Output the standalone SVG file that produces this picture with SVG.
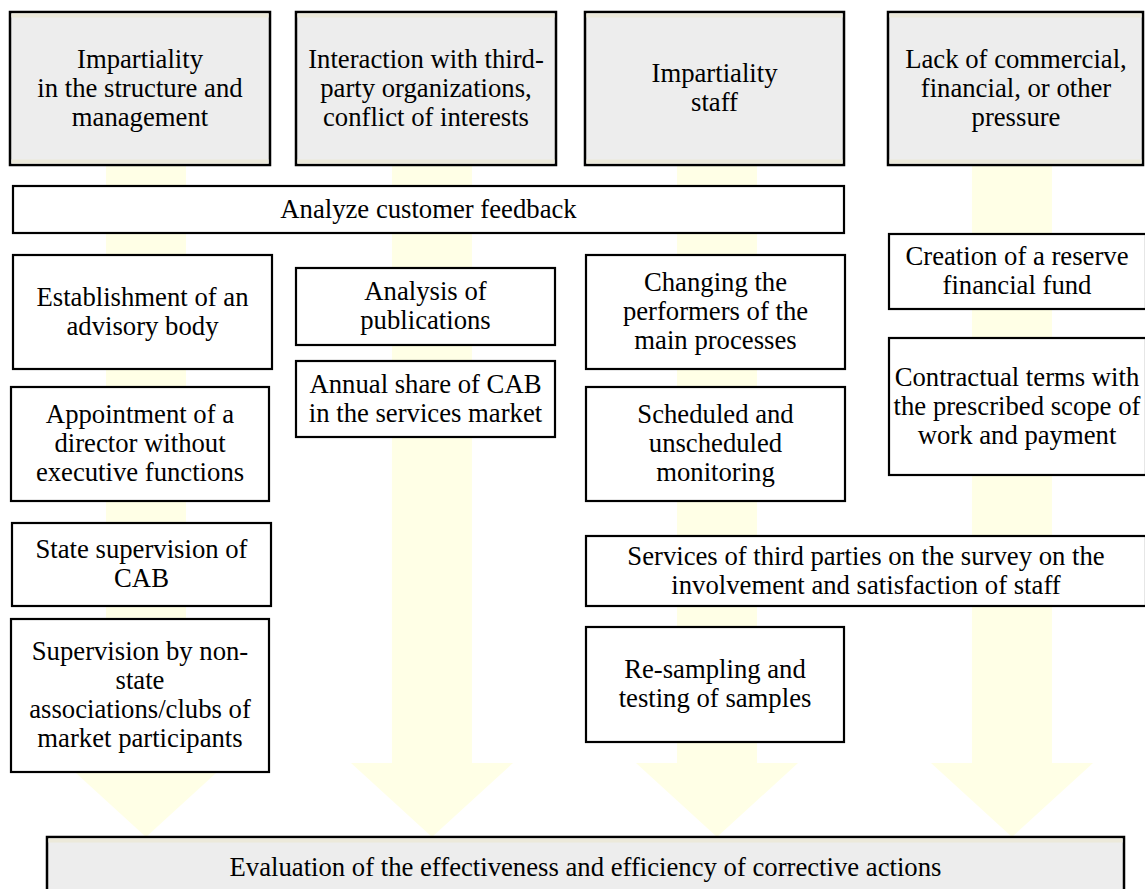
<svg xmlns="http://www.w3.org/2000/svg" width="1145" height="889" viewBox="0 0 1145 889">
<style>
.box{fill:#ffffff;stroke:#000000;stroke-width:2.2}
.head{fill:#ededed;stroke:#000000;stroke-width:2.5}
.strip{fill:#ece9da}
.arrow{fill:#ffffe6;stroke:none}
text{font-family:"Liberation Serif","Times New Roman",serif;font-size:26.7px;fill:#000000;text-anchor:middle}
</style>
<rect width="1145" height="889" fill="#ffffff"/>
<g id="connectors">
<path class="arrow" d="M106,100 H186 V763 H227 L146,837 L65,763 H106 Z"/>
<path class="arrow" d="M392,100 H472 V763 H513 L432,837 L351,763 H392 Z"/>
<path class="arrow" d="M677,100 H757 V763 H798 L717,837 L636,763 H677 Z"/>
<path class="arrow" d="M972,100 H1052 V763 H1093 L1012,837 L931,763 H972 Z"/>
</g>
<g id="top1">
<rect class="head" x="10" y="12" width="260" height="153"/>
<rect class="strip" x="11.5" y="13.5" width="257" height="4"/>
<rect class="strip" x="11.5" y="159.5" width="257" height="4"/>
<text x="140" y="67.5">Impartiality</text>
<text x="140" y="96.5">in the structure and</text>
<text x="140" y="125.5">management</text>
</g>
<g id="top2">
<rect class="head" x="296" y="12" width="260" height="153"/>
<rect class="strip" x="297.5" y="13.5" width="257" height="4"/>
<rect class="strip" x="297.5" y="159.5" width="257" height="4"/>
<text x="426" y="67.5">Interaction with third-</text>
<text x="426" y="96.5">party organizations,</text>
<text x="426" y="125.5">conflict of interests</text>
</g>
<g id="top3">
<rect class="head" x="585" y="12" width="259" height="153"/>
<rect class="strip" x="586.5" y="13.5" width="256" height="4"/>
<rect class="strip" x="586.5" y="159.5" width="256" height="4"/>
<text x="714.5" y="82">Impartiality</text>
<text x="714.5" y="111">staff</text>
</g>
<g id="top4">
<rect class="head" x="888" y="12" width="255" height="153"/>
<rect class="strip" x="889.5" y="13.5" width="252" height="4"/>
<rect class="strip" x="889.5" y="159.5" width="252" height="4"/>
<text x="1016" y="67.5">Lack of commercial,</text>
<text x="1016" y="96.5">financial, or other</text>
<text x="1016" y="125.5">pressure</text>
</g>
<g id="feedback">
<rect class="box" x="13" y="186" width="831" height="47"/>
<text x="428.5" y="218">Analyze customer feedback</text>
</g>
<g id="advisory">
<rect class="box" x="13" y="255" width="259" height="114"/>
<text x="142.5" y="305.5">Establishment of an</text>
<text x="142.5" y="334.5">advisory body</text>
</g>
<g id="director">
<rect class="box" x="11" y="387" width="258" height="114"/>
<text x="140" y="423">Appointment of a</text>
<text x="140" y="452">director without</text>
<text x="140" y="481">executive functions</text>
</g>
<g id="state">
<rect class="box" x="12" y="523" width="259" height="83"/>
<text x="141.5" y="558">State supervision of</text>
<text x="141.5" y="587">CAB</text>
</g>
<g id="nonstate">
<rect class="box" x="11" y="619" width="258" height="153"/>
<text x="140" y="660">Supervision by non-</text>
<text x="140" y="689">state</text>
<text x="140" y="718">associations/clubs of</text>
<text x="140" y="747">market participants</text>
</g>
<g id="publications">
<rect class="box" x="296" y="268" width="259" height="77"/>
<text x="425.5" y="300">Analysis of</text>
<text x="425.5" y="329">publications</text>
</g>
<g id="share">
<rect class="box" x="296" y="361" width="259" height="76"/>
<text x="425.5" y="392.5">Annual share of CAB</text>
<text x="425.5" y="421.5">in the services market</text>
</g>
<g id="performers">
<rect class="box" x="586" y="255" width="259" height="114"/>
<text x="715.5" y="291">Changing the</text>
<text x="715.5" y="320">performers of the</text>
<text x="715.5" y="349">main processes</text>
</g>
<g id="monitoring">
<rect class="box" x="586" y="387" width="259" height="114"/>
<text x="715.5" y="423">Scheduled and</text>
<text x="715.5" y="452">unscheduled</text>
<text x="715.5" y="481">monitoring</text>
</g>
<g id="survey">
<rect class="box" x="586" y="536" width="560" height="70"/>
<text x="866" y="564.5">Services of third parties on the survey on the</text>
<text x="866" y="593.5">involvement and satisfaction of staff</text>
</g>
<g id="resampling">
<rect class="box" x="586" y="627" width="258" height="115"/>
<text x="715" y="678">Re-sampling and</text>
<text x="715" y="707">testing of samples</text>
</g>
<g id="fund">
<rect class="box" x="889" y="234" width="257" height="75"/>
<text x="1017" y="265">Creation of a reserve</text>
<text x="1017" y="294">financial fund</text>
</g>
<g id="contract">
<rect class="box" x="889" y="338" width="257" height="137"/>
<text x="1017" y="385.5">Contractual terms with</text>
<text x="1017" y="414.5">the prescribed scope of</text>
<text x="1017" y="443.5">work and payment</text>
</g>
<g id="evaluation">
<rect class="head" x="47" y="837" width="1077" height="60"/>
<rect class="strip" x="48.5" y="838.5" width="1074" height="4"/>
<text x="585.5" y="876">Evaluation of the effectiveness and efficiency of corrective actions</text>
</g>
</svg>
